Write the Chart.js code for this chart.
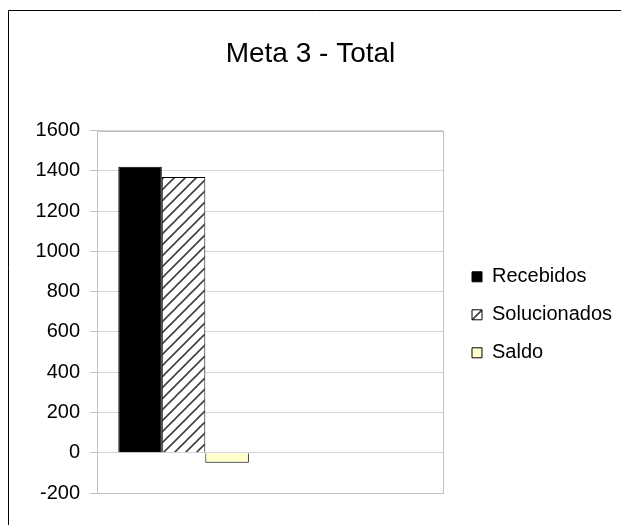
<!DOCTYPE html>
<html>
<head>
<meta charset="utf-8">
<script src="https://cdn.jsdelivr.net/npm/chart.js@4/dist/chart.umd.min.js"></script>
<style>
html,body{margin:0;padding:0;background:#fff;}
#wrap{width:621px;height:525px;position:relative;}
</style>
</head>
<body>
<div id="wrap"><canvas id="c" width="621" height="525"></canvas></div>
<script>
const titleText = 'Meta 3 - Total';
const categories = ['Total', ''];
const seriesNames = ['Recebidos', 'Solucionados', 'Saldo'];
const recebidos = [1420, null];
const solucionados = [1370, null];
const saldo = [-50, null];
const yMin = -200, yMax = 1600, yStep = 200;

function hatch() {
  const s = 11;
  const c = document.createElement('canvas');
  c.width = s; c.height = s;
  const g = c.getContext('2d');
  g.fillStyle = '#fff'; g.fillRect(0, 0, s, s);
  g.strokeStyle = '#404040'; g.lineWidth = 1.6;
  g.beginPath();
  g.moveTo(-1, s + 1); g.lineTo(s + 1, -1);
  g.moveTo(-1, 1); g.lineTo(1, -1);
  g.moveTo(s - 1, s + 1); g.lineTo(s + 1, s - 1);
  g.stroke();
  return g.createPattern(c, 'repeat');
}

Chart.defaults.font.family = '"Liberation Sans", Arial, sans-serif';
Chart.defaults.color = '#000';

const frame = {
  id: 'frame',
  afterLayout(chart) {
    const lg = chart.legend;
    if (lg) {
      const dx = 454 - lg.left, dy = 3;
      lg.left += dx; lg.right = chart.width;
      lg.top += dy; lg.bottom += dy;
      lg.width = lg.right - lg.left;
    }
    const tb = chart.titleBlock;
    if (tb) { tb.left = 0; tb.right = chart.width; tb.width = chart.width; }
  },
  beforeDraw(chart) {
    const ctx = chart.ctx;
    ctx.save();
    ctx.fillStyle = '#fff';
    ctx.fillRect(0, 0, chart.width, chart.height);
    ctx.strokeStyle = '#000'; ctx.lineWidth = 1;
    ctx.beginPath();
    ctx.moveTo(8.5, chart.height + 2); ctx.lineTo(8.5, 10.5); ctx.lineTo(chart.width + 2, 10.5);
    ctx.stroke();
    ctx.restore();
  },
  beforeDatasetsDraw(chart) {
    const a = chart.chartArea, ctx = chart.ctx;
    ctx.save();
    ctx.strokeStyle = '#c0c0c0'; ctx.lineWidth = 1;
    ctx.strokeRect(Math.round(a.left) + 0.5, Math.round(a.top) + 0.5, Math.round(a.right - a.left), Math.round(a.bottom - a.top));
    ctx.restore();
  }
};

new Chart(document.getElementById('c'), {
  type: 'bar',
  data: {
    labels: categories,
    datasets: [
      { label: seriesNames[0], data: recebidos, backgroundColor: '#000', borderColor: '#000', borderWidth: 1 },
      { label: seriesNames[1], data: solucionados, backgroundColor: hatch(), borderColor: '#000', borderWidth: 1 },
      { label: seriesNames[2], data: saldo, backgroundColor: '#ffffcc', borderColor: '#000', borderWidth: 1 }
    ]
  },
  options: {
    responsive: false,
    animation: false,
    layout: { padding: { left: 0, right: 30, top: 0, bottom: 0 } },
    datasets: { bar: { categoryPercentage: 0.754, barPercentage: 1 } },
    plugins: {
      title: {
        display: true, text: titleText,
        font: { size: 28, weight: 'normal' }, color: '#000',
        padding: { top: 37, bottom: 60 }
      },
      legend: {
        display: true, position: 'right', align: 'center', fullSize: false,
        labels: {
          boxWidth: 10, boxHeight: 10, padding: 18,
          font: { size: 20 }, color: '#000',
          generateLabels(chart) {
            return chart.data.datasets.map((d, i) => ({
              text: d.label, fillStyle: d.backgroundColor, strokeStyle: '#000',
              lineWidth: 1, hidden: false, datasetIndex: i
            }));
          }
        }
      },
      tooltip: { enabled: false }
    },
    scales: {
      x: {
        grid: { display: false, drawTicks: false },
        border: { display: false },
        ticks: { display: false },
        afterFit(s) { s.height = 32; }
      },
      y: {
        min: yMin, max: yMax,
        ticks: { stepSize: yStep, padding: 10, font: { size: 20 }, color: '#000', callback: v => String(v) },
        grid: { color: '#d4d4d4', tickLength: 7, tickColor: '#c0c0c0' },
        border: { display: true, color: '#c0c0c0' },
        afterFit(s) { s.width = 97; }
      }
    }
  },
  plugins: [frame]
});
</script>
</body>
</html>
